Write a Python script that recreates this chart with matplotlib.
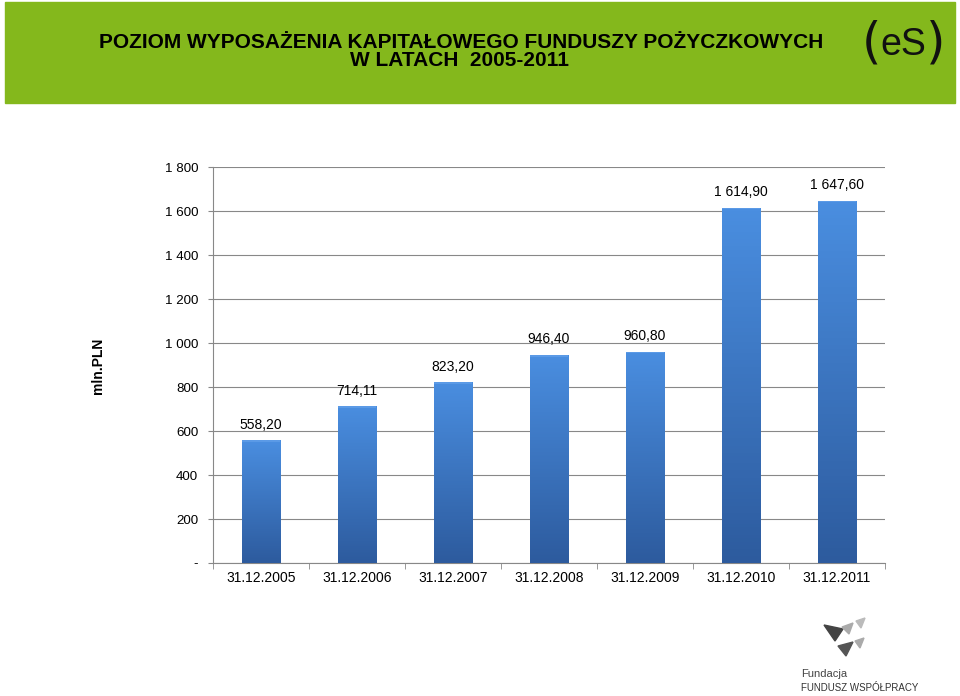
import matplotlib.pyplot as plt
import matplotlib.patches as mpatches
import matplotlib.ticker as mticker
import numpy as np

# data
dates = ["31.12.2005", "31.12.2006", "31.12.2007", "31.12.2008",
         "31.12.2009", "31.12.2010", "31.12.2011"]
values = [558.20, 714.11, 823.20, 946.40, 960.80, 1614.90, 1647.60]
yticks = [0, 200, 400, 600, 800, 1000, 1200, 1400, 1600, 1800]

plt.rcParams['font.family'] = ['Liberation Sans', 'DejaVu Sans']


def fmt_pl(v, decimals=0):
    # polish style: space as thousands separator, comma as decimal sign
    s = f"{v:,.{decimals}f}".replace(",", " ").replace(".", ",")
    return s


fig = plt.figure(figsize=(9.6, 6.96), dpi=100)

# green header band
fig.patches.append(mpatches.Rectangle((5 / 960, 1 - 103 / 696), 950 / 960, 101 / 696,
                                      transform=fig.transFigure, color="#84b81c", zorder=0))
fig.text(461 / 960, 1 - 42 / 696, "POZIOM WYPOSAŻENIA KAPITAŁOWEGO FUNDUSZY POŻYCZKOWYCH",
         ha="center", va="center", fontsize=15, fontweight="bold")
fig.text(459 / 960, 1 - 61 / 696, "W LATACH  2005-2011", ha="center", va="center",
         fontsize=15, fontweight="bold")
# eS logo
fig.text(903 / 960, 1 - 45 / 696, "eS", ha="center", va="center", fontsize=27,
         color="#111111")
fig.text(871 / 960, 1 - 43 / 696, "(", ha="center", va="center", fontsize=36,
         color="#111111", fontfamily="DejaVu Sans")
fig.text(936 / 960, 1 - 43 / 696, ")", ha="center", va="center", fontsize=36,
         color="#111111", fontfamily="DejaVu Sans")

ax = fig.add_axes([213 / 960, (696 - 563) / 696, (885 - 213) / 960, (563 - 167) / 696])
x = np.arange(len(dates))
bars = ax.bar(x, values, width=0.4, color="#3f7dcf", zorder=2)

# simple gradient on the bars
grad = np.linspace(0, 1, 100).reshape(-1, 1)
cmap = plt.matplotlib.colors.LinearSegmentedColormap.from_list("b", ["#2d5b9e", "#4a8ee0"])
for b in bars:
    bx, bw, bh = b.get_x(), b.get_width(), b.get_height()
    im = ax.imshow(grad, extent=(bx, bx + bw, 0, bh), origin="lower", cmap=cmap,
                   aspect="auto", zorder=3)
    im.set_clip_path(b)
    ax.add_patch(mpatches.Rectangle((bx, bh - 8), bw, 8, color="#5b9ae6", zorder=4, lw=0))

for xi, v in zip(x, values):
    ax.annotate(fmt_pl(v, 2), (xi, v), xytext=(0, 6), textcoords="offset points",
                ha="center", va="bottom", fontsize=10)

ax.set_xlim(-0.5, len(dates) - 0.5)
ax.set_ylim(0, 1800)
ax.set_yticks(yticks)
ax.yaxis.set_major_formatter(mticker.FuncFormatter(lambda v, p: "-" if v == 0 else fmt_pl(v)))
ax.set_xticks(x)
ax.set_xticklabels(dates)
ax.set_xticks(np.arange(-0.5, len(dates)), minor=True)
ax.tick_params(axis="x", which="major", length=0, labelsize=10, pad=6)
ax.tick_params(axis="x", which="minor", length=4, color="#888888")
ax.tick_params(axis="y", length=3.6, color="#888888", labelsize=9.6, pad=7)
ax.grid(axis="y", color="#888888", linewidth=0.8, zorder=0)
ax.set_axisbelow(True)
for s in ["top", "right"]:
    ax.spines[s].set_visible(False)
ax.spines["left"].set_color("#888888")
ax.spines["bottom"].set_color("#888888")

fig.text(98 / 960, 1 - 366 / 696, "mln.PLN", rotation=90, ha="center", va="center",
         fontsize=10, fontweight="bold")

# foundation logo bottom right
tri = [[(824, 625), (843, 629), (835, 641)],
       [(842, 627), (853, 623), (849, 634)],
       [(856, 621), (865, 618), (861, 628)],
       [(838, 646), (853, 642), (846, 656)],
       [(855, 641), (864, 638), (860, 648)]]
cols = ["#444444", "#aaaaaa", "#bbbbbb", "#555555", "#aaaaaa"]
for t, c in zip(tri, cols):
    pts = [(px / 960, 1 - py / 696) for px, py in t]
    fig.patches.append(mpatches.Polygon(pts, closed=True, transform=fig.transFigure,
                                        color=c))
fig.text(801 / 960, 1 - 674 / 696, "Fundacja", fontsize=8, color="#444444", va="center")
fig.text(801 / 960, 1 - 688 / 696, "FUNDUSZ WSPÓŁPRACY", fontsize=7, color="#333333",
         va="center")

fig.savefig("out.png", dpi=100)
